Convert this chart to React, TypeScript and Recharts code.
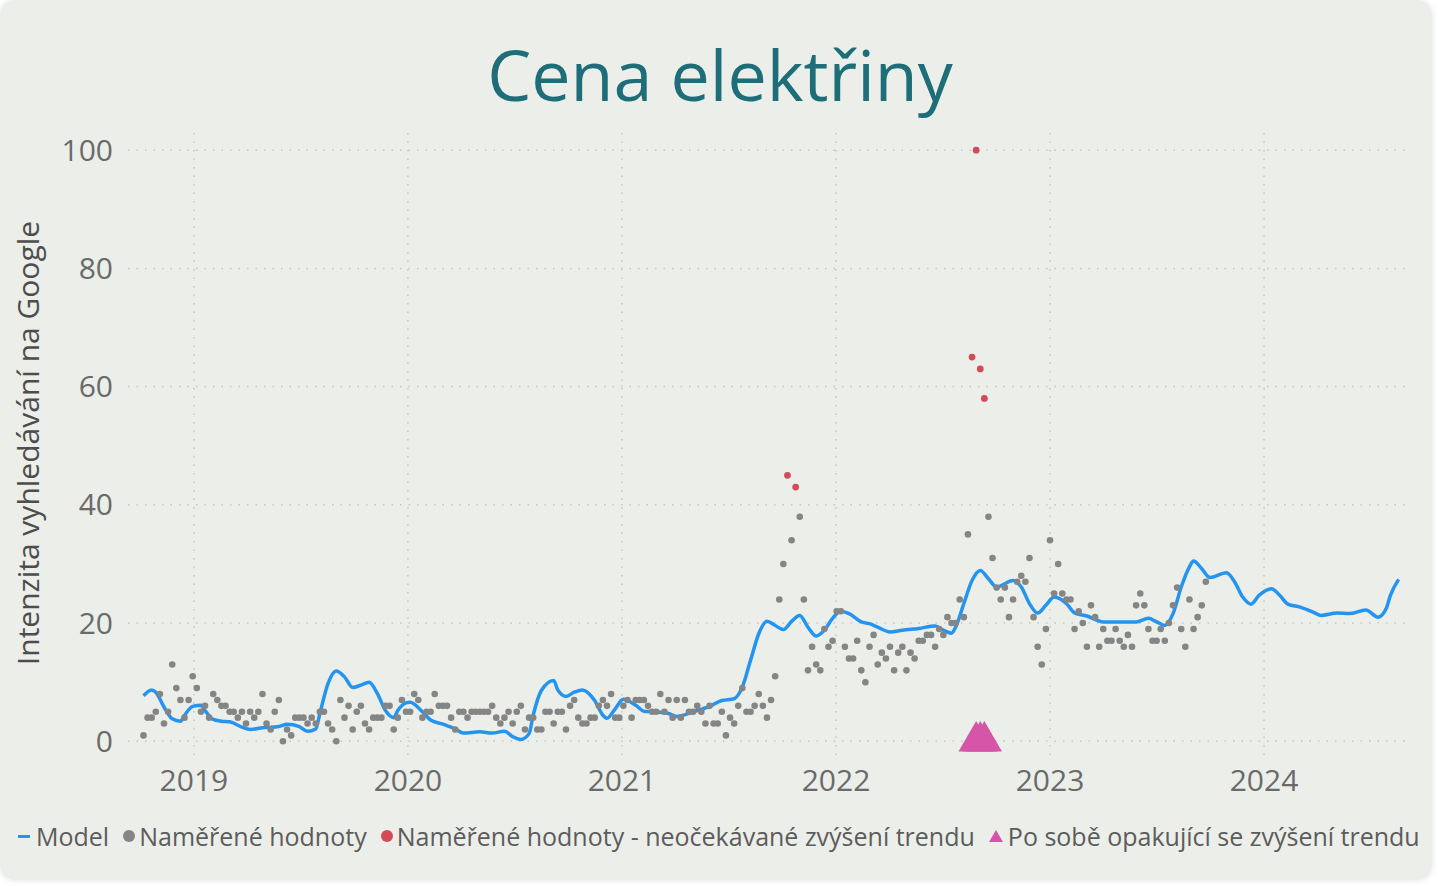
import { CartesianGrid, ComposedChart, Line, Scatter, XAxis, YAxis, ZAxis } from "recharts";

// weekly data, first week 7. 10. 2018
const START = 2018 + 279 / 365;
const WEEK = 7 / 365.25;

const years = [2019, 2020, 2021, 2022, 2023, 2024];
const yTicks = [0, 20, 40, 60, 80, 100];

// Naměřené hodnoty (Google Trends, týdně)
const measured = [
  1, 4, 4, 5, 8, 3, 5, 13, 9, 7, 4, 7, 11, 9, 5, 6, 4, 8, 7, 6,
  6, 5, 5, 4, 5, 3, 5, 4, 5, 8, 3, 2, 5, 7, 0, 2, 1, 4, 4, 4,
  3, 4, 3, 5, 5, 3, 2, 0, 7, 4, 6, 2, 5, 6, 3, 2, 4, 4, 4, 6,
  6, 2, 4, 7, 5, 5,
  8, 7, 4, 5, 5, 8, 6, 6, 6, 4, 2, 5, 5, 4, 5, 5, 5, 5, 5, 6,
  4, 3, 4, 5, 3, 5, 6, 2, 4, 4, 2, 2, 5, 5, 3, 5, 5, 2, 6, 7,
  4, 3, 3, 4, 4, 6, 7, 6, 8, 4, 4, 6, 7, 4, 7, 7, 7, 6, 5, 5,
  8, 5, 7, 4, 7,
  4, 7, 5, 5, 6, 5, 3, 6, 3, 3, 5, 1, 4, 3, 6, 9, 5, 5, 6, 8,
  6, 4, 7, 11, 24, 30, 45, 34, 43, 38, 24, 12, 16, 13, 12, 19, 16, 17, 22, 22,
  16, 14, 14, 17, 12, 10, 16, 18, 13, 15, 14, 16, 12, 15,
  16, 12, 15, 14, 17, 17, 18, 18, 16, 19, 18, 21, 20, 20, 24, 21, 35, 65, 100, 63,
  58, 38, 31, 26, 24, 26, 21, 24, 27, 28, 27, 31, 21, 16, 13, 19, 34, 25, 30, 25,
  24, 24, 19, 22, 20, 16, 23, 21, 16, 19, 17, 17, 19, 17, 16, 18, 16, 23, 25, 23,
  19, 17, 17, 19, 17, 20, 23, 26, 19, 16, 24, 19, 21, 23, 27,
];

// týdny s neočekávaným zvýšením trendu
const unexpectedWeeks = [157, 159, 202, 203, 204, 205];
// po sobě opakující se zvýšení trendu
const repeatedWeeks = [203, 204, 205];

// model: [týden, hodnota]
const model: [number, number][] = [
  [0, 7.7], [2, 8.7], [3, 8.3], [5, 5.8], [7, 3.8], [9, 3.4], [10, 4.4], [12, 5.9],
  [14, 6.1], [15, 5.2], [17, 3.7], [19, 3.4], [21, 3.3], [24, 2.4], [26, 2.0], [29, 2.3],
  [33, 2.5], [35, 2.9], [38, 2.5], [40, 1.7], [42, 2.1], [43, 4.7], [45, 9.8], [47, 11.9],
  [49, 10.9], [51, 9.1], [53, 9.5], [55, 10.0], [57, 8.1], [59, 5.2], [61, 4.0], [62, 5.2],
  [64, 6.5], [65, 6.6], [68, 5.0], [70, 3.6], [73, 2.9], [76, 2.1], [78, 1.4], [82, 1.6],
  [85, 1.4], [88, 1.7], [90, 0.8], [92, 0.3], [94, 1.3], [95, 4.4], [97, 8.6], [100, 10.3],
  [101, 8.7], [103, 7.6], [105, 8.3], [107, 8.7], [110, 6.9], [112, 4.4], [113, 3.9], [115, 5.5],
  [117, 7.1], [120, 6.1], [122, 5.1], [125, 5.0], [128, 4.7], [130, 4.2], [134, 5.0], [138, 5.9],
  [141, 6.9], [144, 7.2], [146, 9.2], [148, 13.7], [150, 18.2], [152, 20.3], [154, 19.6], [156, 18.9],
  [158, 20.3], [160, 21.3], [162, 19.3], [164, 17.8], [166, 18.8], [168, 20.8], [170, 22.0], [172, 21.6],
  [175, 20.2], [177, 19.9], [179, 19.3], [182, 18.5], [185, 18.8], [189, 19.1], [193, 19.5], [195, 18.8],
  [197, 18.3], [198, 19.3], [200, 23.3], [202, 27.2], [204, 28.9], [206, 27.5], [208, 26.1], [212, 27.2],
  [214, 26.1], [216, 23.3], [218, 21.7], [220, 23.0], [222, 24.4], [225, 23.3], [227, 21.7], [230, 21.2],
  [234, 20.2], [238, 20.2], [242, 20.2], [245, 20.8], [247, 20.2], [249, 19.6], [251, 21.6], [253, 26.1],
  [255, 29.5], [256, 30.5], [258, 29.2], [260, 27.7], [264, 28.5], [266, 27.0], [268, 24.4], [270, 23.2],
  [272, 24.7], [275, 25.8], [277, 24.7], [279, 23.2], [282, 22.7], [285, 21.9], [287, 21.3], [291, 21.7],
  [294, 21.6], [298, 22.2], [301, 21.0], [303, 22.5], [304, 24.7], [306, 27.4],
];

const toX = (w: number) => START + w * WEEK;

const grayPoints = measured
  .map((y, i) => ({ x: toX(i), y }))
  .filter((_, i) => !unexpectedWeeks.includes(i));
const redPoints = unexpectedWeeks.map((i) => ({ x: toX(i), y: measured[i] }));
const trianglePoints = repeatedWeeks.map((i) => ({ x: toX(i), y: 0 }));
const modelPoints = model.map(([w, y]) => ({ x: toX(w), y }));

const FONT = '"Segoe UI", "Open Sans", "Noto Sans", sans-serif';
const BLUE = "#2394f0";
const GRAY = "#858585";
const RED = "#d24b57";
const PINK = "#d655a8";

const legendItems = [
  { label: "Model", kind: "line", color: BLUE },
  { label: "Naměřené hodnoty", kind: "dot", color: GRAY },
  { label: "Naměřené hodnoty - neočekávané zvýšení trendu", kind: "dot", color: RED },
  { label: "Po sobě opakující se zvýšení trendu", kind: "tri", color: PINK },
];

const Marker = ({ kind, color }: { kind: string; color: string }) => {
  if (kind === "line")
    return <span style={{ display: "inline-block", width: 12, height: 3, background: color, marginRight: 6 }} />;
  if (kind === "dot")
    return <span style={{ display: "inline-block", width: 12, height: 12, borderRadius: 6, background: color, marginRight: 4 }} />;
  return (
    <span
      style={{
        display: "inline-block",
        width: 0,
        height: 0,
        borderLeft: "7px solid transparent",
        borderRight: "7px solid transparent",
        borderBottom: `12px solid ${color}`,
        marginRight: 5,
      }}
    />
  );
};

const App = () => {
  return (
    <div
      style={{
        position: "absolute",
        left: 0,
        top: 0,
        width: 1432,
        height: 880,
        borderRadius: 16,
        background: "#eceee9",
        boxShadow: "0 0 6px rgba(0,0,0,0.12)",
        fontFamily: FONT,
        overflow: "hidden",
      }}
    >
      <div
        style={{
          position: "absolute",
          top: 24,
          left: 0,
          width: 1440,
          textAlign: "center",
          fontSize: 70,
          color: "#1d6e78",
          lineHeight: "100px",
        }}
      >
        Cena elektřiny
      </div>
      <div
        style={{
          position: "absolute",
          left: 27,
          top: 443,
          transform: "translate(-50%, -50%) rotate(-90deg)",
          whiteSpace: "nowrap",
          fontSize: 30,
          color: "#4d4d4d",
        }}
      >
        Intenzita vyhledávání na Google
      </div>
      <div style={{ position: "absolute", left: 0, top: 0 }}>
        <ComposedChart
          width={1432}
          height={810}
          margin={{ top: 133, right: 22, left: 0, bottom: 8 }}
          style={{ fontFamily: FONT }}
        >
          <CartesianGrid
            stroke="#c4c6c2"
            strokeWidth={1.5}
            strokeDasharray="1.5 7"
            horizontalValues={yTicks}
            verticalValues={years}
          />
          <XAxis
            type="number"
            dataKey="x"
            domain={[2018.692, 2024.682]}
            ticks={years}
            tickFormatter={(v) => String(Math.round(v))}
            axisLine={false}
            tickLine={false}
            tickSize={0}
            tickMargin={8}
            height={40}
            tick={{ fill: "#6a6a6a", fontSize: 30 }}
            allowDataOverflow
          />
          <YAxis
            type="number"
            dataKey="y"
            domain={[-3.5, 102.9]}
            ticks={yTicks}
            axisLine={false}
            tickLine={false}
            tickSize={0}
            tickMargin={15}
            width={128}
            tick={{ fill: "#6a6a6a", fontSize: 30 }}
            allowDataOverflow
          />
          <ZAxis zAxisId="dots" range={[34, 34]} />
          <ZAxis zAxisId="red" range={[36, 36]} />
          <ZAxis zAxisId="tri" range={[540, 540]} />
          <Line
            data={modelPoints}
            dataKey="y"
            type="monotone"
            stroke={BLUE}
            strokeWidth={3.5}
            dot={false}
            activeDot={false}
            isAnimationActive={false}
          />
          <Scatter data={grayPoints} dataKey="y" zAxisId="dots" fill={GRAY} shape="circle" isAnimationActive={false} />
          <Scatter data={redPoints} dataKey="y" zAxisId="red" fill={RED} shape="circle" isAnimationActive={false} />
          <Scatter data={trianglePoints} dataKey="y" zAxisId="tri" fill={PINK} shape="triangle" isAnimationActive={false} />
        </ComposedChart>
      </div>
      <div
        style={{
          position: "absolute",
          left: 18,
          top: 819,
          display: "flex",
          alignItems: "center",
          whiteSpace: "nowrap",
          fontSize: 25,
          color: "#5c5c5c",
        }}
      >
        {legendItems.map((it) => (
          <span key={it.label} style={{ display: "inline-flex", alignItems: "center", marginRight: 14 }}>
            <Marker kind={it.kind} color={it.color} />
            {it.label}
          </span>
        ))}
      </div>
    </div>
  );
};

export default App;
